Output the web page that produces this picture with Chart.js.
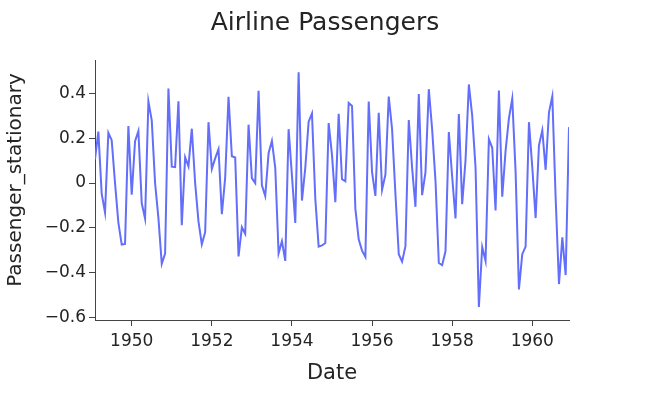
<!DOCTYPE html>
<html>
<head>
<meta charset="utf-8">
<script src="https://cdn.jsdelivr.net/npm/chart.js@4"></script>
<style>
    body { margin: 0; background: #fff; }
</style>
</head>
<body>
<canvas id="chart"></canvas>
<script>
// Box-Cox differenced airline passengers, one array per year (1949 starts in Feb)
const v1949 = [0.105, 0.229, -0.047, -0.131, 0.224, 0.191, 0, -0.176, -0.274, -0.271, 0.254]
const v1950 = [-0.052, 0.186, 0.232, -0.090, -0.158, 0.364, 0.279, 0, -0.156, -0.360, -0.314, 0.421]
const v1951 = [0.073, 0.071, 0.364, -0.188, 0.115, 0.074, 0.242, 0, -0.171, -0.273, -0.219, 0.271]
const v1952 = [0.063, 0.110, 0.151, -0.139, 0.024, 0.384, 0.119, 0.114, -0.327, -0.197, -0.226, 0.260]
const v1953 = [0.022, 0, 0.411, -0.010, -0.058, 0.133, 0.188, 0.068, -0.313, -0.259, -0.347, 0.240]
const v1954 = [0.033, -0.178, 0.493, -0.078, 0.068, 0.273, 0.310, -0.070, -0.283, -0.278, -0.267, 0.267]
const v1955 = [0.124, -0.085, 0.308, 0.017, 0.008, 0.357, 0.343, -0.114, -0.251, -0.301, -0.329, 0.363]
const v1956 = [0.049, -0.057, 0.313, -0.030, 0.037, 0.385, 0.240, -0.048, -0.317, -0.350, -0.281, 0.281]
const v1957 = [0.068, -0.106, 0.396, -0.054, 0.047, 0.418, 0.239, 0.011, -0.356, -0.366, -0.304, 0.227]
const v1958 = [0.028, -0.158, 0.307, -0.094, 0.101, 0.439, 0.300, 0.070, -0.552, -0.285, -0.347, 0.196]
const v1959 = [0.157, -0.122, 0.412, -0.061, 0.143, 0.288, 0.376, 0.051, -0.474, -0.317, -0.283, 0.271]
const v1960 = [0.071, -0.156, 0.168, 0.235, 0.059, 0.315, 0.386, -0.067, -0.450, -0.242, -0.410, 0.249]

const years = [1949, 1950, 1951, 1952, 1953, 1954, 1955, 1956, 1957, 1958, 1959, 1960]
const values = [v1949, v1950, v1951, v1952, v1953, v1954, v1955, v1956, v1957, v1958, v1959, v1960]

const xTicks = [1950, 1952, 1954, 1956, 1958, 1960]
const xTickLabels = ['1950', '1952', '1954', '1956', '1958', '1960']
const yTicks = [-0.6, -0.4, -0.2, 0, 0.2, 0.4]
const yTickLabels = ['\u22120.6', '\u22120.4', '\u22120.2', '0', '0.2', '0.4']
const yTitle = 'Passenger_stationary'

// months as decimal years, Feb 1949 .. Dec 1960
const points = []
years.forEach((year, i) => {
    const row = values[i]
    const firstMonth = 12 - row.length
    row.forEach((y, j) => {
        points.push({ x: year + (firstMonth + j) / 12, y })
    })
})

const ink = '#242424'
const axisColor = '#444444'
Chart.defaults.font.family = 'DejaVu Sans'
Chart.defaults.color = ink

// y axis title, drawn a little above the middle of the plot like the original
const yTitlePlugin = {
    id: 'yTitle',
    afterDraw(chart) {
        const c = chart.ctx
        const area = chart.chartArea
        c.save()
        c.translate(16, (area.top + area.bottom) / 2 - 10)
        c.rotate(-Math.PI / 2)
        c.font = '20px "DejaVu Sans"'
        c.fillStyle = ink
        c.textAlign = 'center'
        c.textBaseline = 'middle'
        c.fillText(yTitle, 0, 0)
        c.restore()
    }
}

const ctx = document.getElementById('chart')
ctx.width = 650
ctx.height = 400

new Chart(ctx, {
    type: 'line',
    data: {
        datasets: [{
            label: yTitle,
            data: points,
            borderColor: '#636efa',
            borderWidth: 2,
            pointRadius: 0,
            tension: 0,
            fill: false
        }]
    },
    options: {
        responsive: false,
        animation: false,
        layout: { padding: 0 },
        plugins: {
            legend: { display: false },
            tooltip: { enabled: false },
            title: {
                display: true,
                text: 'Airline Passengers',
                color: ink,
                font: { size: 25, weight: 'normal' },
                padding: { top: 8, bottom: 22 }
            }
        },
        scales: {
            x: {
                type: 'linear',
                min: 1949 + 1 / 12,
                max: 1960 + 11 / 12,
                afterBuildTicks: (axis) => { axis.ticks = xTicks.map(v => ({ value: v })) },
                afterFit: (axis) => { axis.height = 80 },
                ticks: {
                    font: { size: 17 },
                    padding: 5,
                    maxRotation: 0,
                    callback: (v, i) => xTickLabels[i]
                },
                grid: { drawOnChartArea: false, tickLength: 6, color: axisColor },
                border: { display: true, color: axisColor, width: 1 },
                title: {
                    display: true,
                    text: 'Date',
                    font: { size: 21 },
                    padding: { top: 0, bottom: 13.6 }
                }
            },
            y: {
                min: -0.610,
                max: 0.548,
                afterBuildTicks: (axis) => { axis.ticks = yTicks.map(v => ({ value: v })) },
                afterFit: (axis) => { axis.width = 95 },
                ticks: {
                    font: { size: 17 },
                    padding: 3,
                    callback: (v, i) => yTickLabels[i]
                },
                grid: { drawOnChartArea: false, tickLength: 6, color: axisColor },
                border: { display: true, color: axisColor, width: 1 }
            },
            // empty right margin so the title stays centred on the page
            right: {
                position: 'right',
                afterFit: (axis) => { axis.width = 81 },
                ticks: { display: false },
                grid: { display: false },
                border: { display: false }
            }
        }
    },
    plugins: [yTitlePlugin]
})
</script>
</body>
</html>
